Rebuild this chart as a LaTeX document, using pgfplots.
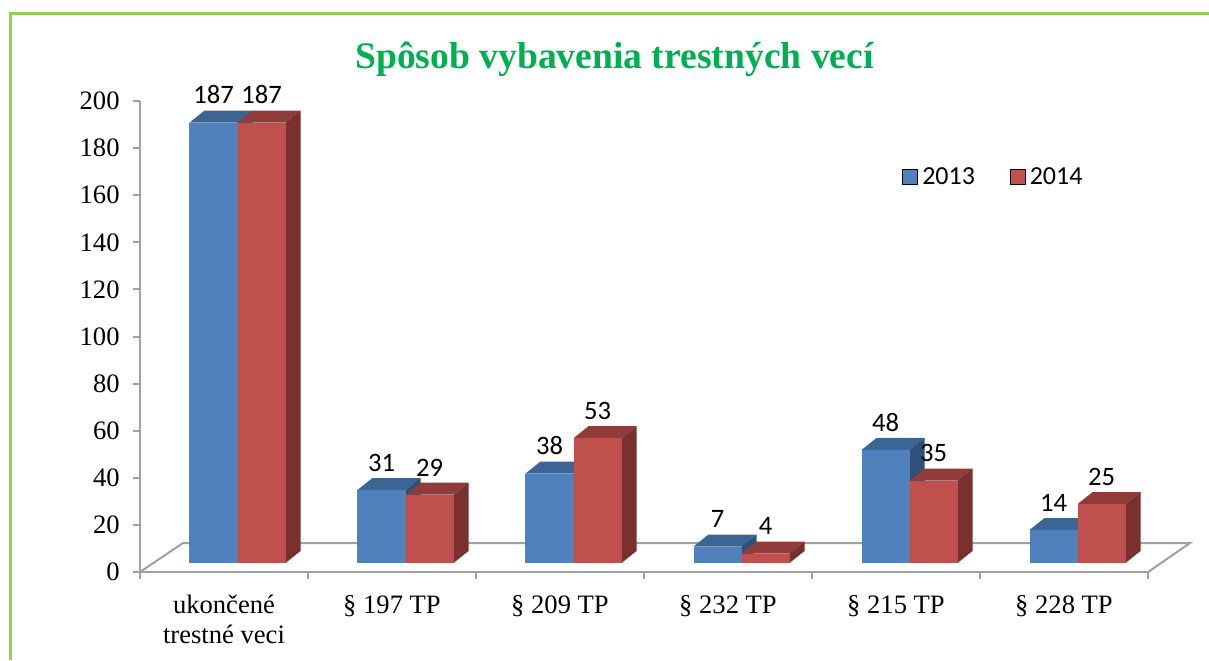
\documentclass[border=0pt]{standalone}
\usepackage{fontspec}
\setmainfont{Liberation Serif}
\newfontfamily\calibri{Carlito}
\usepackage{pgfplots}
\usepackage{pgfplotstable}
\pgfplotsset{compat=1.18}
\definecolor{bfront}{HTML}{4F81BD}
\definecolor{btop}{HTML}{3D6594}
\definecolor{bside}{HTML}{2F5079}
\definecolor{rfront}{HTML}{C0504D}
\definecolor{rtop}{HTML}{903C3A}
\definecolor{rside}{HTML}{7A302F}
\definecolor{axgray}{HTML}{A0A0A0}
\definecolor{ttlgreen}{HTML}{00B050}
\definecolor{framegreen}{HTML}{92D050}

\pgfplotstableread{
x a b
0 187 187
1 31 29
2 38 53
3 7 4
4 48 35
5 14 25
}\data

\newcommand\drawbar[7]{%
  \fill[#6] ([yshift=4.5pt]axis cs:#1#3,#2) -- ([shift={(7.5pt,10.5pt)}]axis cs:#1#3,#2) -- ([shift={(7.5pt,10.5pt)}]axis cs:#1#4,#2) -- ([yshift=4.5pt]axis cs:#1#4,#2) -- cycle;
  \fill[#7] ([yshift=4.5pt]axis cs:#1#4,0) -- ([shift={(7.5pt,10.5pt)}]axis cs:#1#4,0) -- ([shift={(7.5pt,10.5pt)}]axis cs:#1#4,#2) -- ([yshift=4.5pt]axis cs:#1#4,#2) -- cycle;
  \fill[#5] ([yshift=4.5pt]axis cs:#1#3,0) rectangle ([yshift=4.5pt]axis cs:#1#4,#2);
}

\begin{document}
\begin{tikzpicture}[x=0.5pt,y=0.5pt]
\path[use as bounding box] (0,0) rectangle (1209,660);
\draw[framegreen,line width=1.5pt] (10,0) -- (10,646) -- (1209,646);
\node[anchor=base, text=ttlgreen, font=\bfseries\fontsize{18.8}{22}\selectfont, inner sep=0pt] at (614.5,591) {Spôsob vybavenia trestných vecí};
\begin{axis}[
  at={(70pt,44pt)}, anchor=south west,
  scale only axis, width=504pt, height=235.5pt,
  xmin=-0.5, xmax=5.5, ymin=0, ymax=200,
  clip=false,
  axis x line=bottom, axis y line=left,
  axis line style={axgray, line width=1pt, -},
  /pgf/number format/assume math mode=true,
  xtick={-0.5,0.5,...,5.5}, xticklabels={},
  extra x ticks={0,...,5},
  extra x tick labels={{ukončené\\trestné veci},{§ 197 TP},{§ 209 TP},{§ 232 TP},{§ 215 TP},{§ 228 TP}},
  extra x tick style={major tick length=0pt, tick label style={anchor=north, align=center, inner sep=0pt, yshift=-11.5pt}},
  ytick={0,20,...,200},
  yticklabel style={anchor=east, inner sep=0pt, xshift=-6.5pt},
  tick style={axgray, line width=1pt},
  major tick length=3.5pt, tick align=outside,
  tick label style={font=\fontsize{13.3}{15}\selectfont, text=black},
  legend columns=2,
  legend style={at={(0.756,0.8365)}, anchor=west, draw=none, fill=none, inner sep=0pt,
    font=\calibri\fontsize{13}{15}\selectfont,
    /tikz/every even column/.append style={column sep=15.5pt}},
  legend image code/.code={\fill[#1] (0pt,-3pt) rectangle (7.5pt,4.5pt);},
]
\draw[axgray, line width=1pt] (axis cs:-0.5,0) -- ([shift={(21.5pt,14.5pt)}]axis cs:-0.5,0) -- ([shift={(21pt,14.5pt)}]axis cs:5.5,0) -- (axis cs:5.5,0);
\pgfplotsinvokeforeach{0,...,5}{
  \pgfplotstablegetelem{#1}{a}\of\data \let\va\pgfplotsretval
  \pgfplotstablegetelem{#1}{b}\of\data \let\vb\pgfplotsretval
  \edef\tmp{\noexpand\drawbar{#1}{\va}{-0.2054}{+0.0804}{bfront}{btop}{bside}%
            \noexpand\drawbar{#1}{\vb}{+0.0804}{+0.3661}{rfront}{rtop}{rside}}%
  \tmp
}
\addplot[draw=none, mark=none, forget plot, point meta=explicit symbolic,
  nodes near coords,
  every node near coord/.append style={anchor=base, yshift=13.85pt, inner sep=0pt, font=\calibri\fontsize{13.3}{15}\selectfont, text=black}]
  table[x expr=\thisrow{x}-0.0625, y=a, meta=a] {\data};
\addplot[draw=none, mark=none, forget plot, point meta=explicit symbolic,
  nodes near coords,
  every node near coord/.append style={anchor=base, yshift=13.85pt, inner sep=0pt, font=\calibri\fontsize{13.3}{15}\selectfont, text=black}]
  table[x expr=\thisrow{x}+0.2232, y=b, meta=b] {\data};
\addlegendimage{fill=bfront}
\addlegendentry{2013}
\addlegendimage{fill=rfront}
\addlegendentry{2014}
\end{axis}
\end{tikzpicture}
\end{document}
